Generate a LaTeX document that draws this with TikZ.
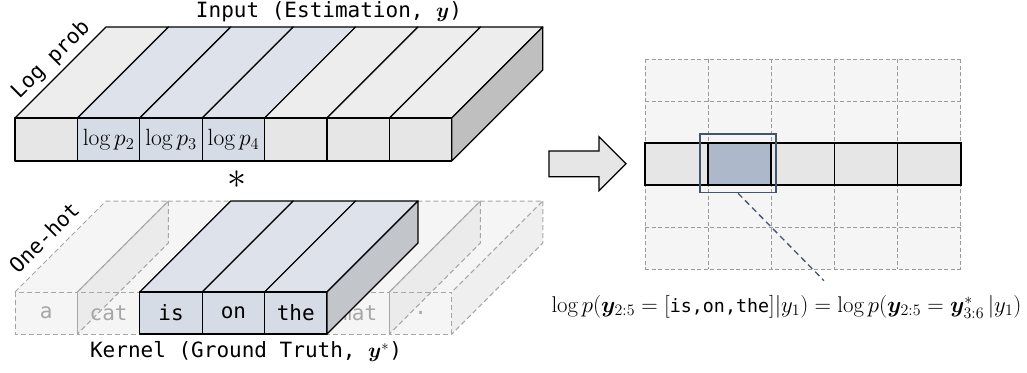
\RequirePackage{fix-cm}
\documentclass[tikz,border=0pt]{standalone}
\usepackage{amsmath}
\usepackage{bm}
\usepackage{fontspec}
\setmonofont{DejaVu Sans Mono}
\definecolor{grfront}{HTML}{E6E6E6}
\definecolor{grtop}{HTML}{EDEDED}
\definecolor{blfront}{HTML}{D6DCE5}
\definecolor{bltop}{HTML}{DEE3EB}
\definecolor{sidegray}{HTML}{BFBFBF}
\definecolor{sideblue}{HTML}{C2C5CA}
\definecolor{ghostline}{HTML}{A6A6A6}
\definecolor{ghostfill}{HTML}{F5F5F5}
\definecolor{ghosttext}{HTML}{A6A6A6}
\definecolor{gridbg}{HTML}{F5F5F5}
\definecolor{gridline}{HTML}{9A9A9A}
\definecolor{hlcell}{HTML}{ADB9CA}
\definecolor{hlframe}{HTML}{44546A}
\begin{document}
\begin{tikzpicture}[x=1pt,y=-1pt,
  edge/.style={draw=black,line width=1.2pt,line join=round},
  ghostedge/.style={draw=ghostline,line width=1pt,dash pattern=on 5pt off 3pt},
  griddash/.style={draw=gridline,line width=0.9pt,dash pattern=on 4pt off 2.5pt},
  monotext/.style={font=\ttfamily\fontsize{21}{25}\selectfont,inner sep=0pt},
  celltext/.style={font=\fontsize{23.5}{27}\selectfont,inner sep=0pt},
  ghosttxt/.style={monotext,text=ghosttext},
  conn/.style={draw=hlframe,line width=1.3pt,dash pattern=on 6pt off 4pt}]
\useasboundingbox (0,0) rectangle (1027,372);

% ---------- top box (Log prob) ----------
\foreach \i/\c in {0/gr,1/bl,2/bl,3/bl,4/gr,5/gr,6/gr}{
  \pgfmathsetmacro\xa{15+62.4*\i}
  \pgfmathsetmacro\xb{\xa+62.4}
  \path[edge,fill=\c top] (\xa,118) -- (\xb,118) -- (\xb+91,27) -- (\xa+91,27) -- cycle;
  \path[edge,fill=\c front] (\xa,118) rectangle (\xb,161);
}
\path[edge,fill=sidegray] (451.8,118) -- (542.8,27) -- (542.8,70) -- (451.8,161) -- cycle;
\node[celltext] (lp2) at (108.6,140) {$\log p_2$};
\node[celltext] (lp3) at (171.0,140) {$\log p_3$};
\node[celltext] (lp4) at (233.4,140) {$\log p_4$};
\node[monotext] (title) at (329,12) {Input (Estimation, $\bm{y}$)};
\node[monotext,rotate=45] (logprob) at (51,60) {Log prob};
\node[font=\fontsize{38}{38}\selectfont,inner sep=0pt] (conv) at (237,179.5) {$\ast$};

% ---------- ghost cells (One-hot) ----------
\foreach \i in {0,1,5,6}{
  \pgfmathsetmacro\xa{15+62.4*\i}
  \pgfmathsetmacro\xb{\xa+62.4}
  \path[fill=ghostfill] (\xa,292) -- (\xb,292) -- (\xb+91,201) -- (\xa+91,201) -- cycle;
  \path[fill=ghostfill] (\xa,292) rectangle (\xb,334);
}
\foreach \i in {0,1,5,6}{
  \pgfmathsetmacro\xb{15+62.4*\i+62.4}
  \path[fill=black!9,fill opacity=0.7] (\xb,292) -- (\xb+91,201) -- (\xb+91,243) -- (\xb,334) -- cycle;
}
\foreach \i in {0,1,5,6}{
  \pgfmathsetmacro\xa{15+62.4*\i}
  \pgfmathsetmacro\xb{\xa+62.4}
  \path[ghostedge] (\xa,292) rectangle (\xb,334);
  \path[ghostedge] (\xa,292) -- (\xa+91,201) -- (\xb+91,201) -- (\xb,292);
  \path[ghostedge] (\xb+91,201) -- (\xb+91,243) -- (\xb,334);
}
\node[ghosttxt] (ga) at (46.2,313) {a};
\node[ghosttxt] (gcat) at (108.6,313) {cat};
\node[ghosttxt] (gmat) at (358.2,313) {mat};
\node[ghosttxt] (gdot) at (420.6,313) {.};
\node[monotext,rotate=45] (onehot) at (44,237.5) {One-hot};

% ---------- solid kernel ----------
\foreach \i in {2,3,4}{
  \pgfmathsetmacro\xa{15+62.4*\i}
  \pgfmathsetmacro\xb{\xa+62.4}
  \path[edge,fill=bltop] (\xa,292) -- (\xb,292) -- (\xb+91,201) -- (\xa+91,201) -- cycle;
  \path[edge,fill=blfront] (\xa,292) rectangle (\xb,334);
}
\path[edge,fill=sideblue] (327,292) -- (418,201) -- (418,243) -- (327,334) -- cycle;
\node[monotext] (kis) at (171.0,313) {is};
\node[monotext] (kon) at (233.4,313) {on};
\node[monotext] (kthe) at (295.8,313) {the};
\node[monotext] (kernel) at (246,352) {Kernel (Ground Truth, $\bm{y}^*$)};

% ---------- block arrow ----------
\path[draw=black,line width=1.2pt,line join=miter,fill=grfront]
  (549,151) -- (599,151) -- (599,136.7) -- (626,163.7) -- (599,190.7) -- (599,176.7) -- (549,176.7) -- cycle;

% ---------- output grid ----------
\path[fill=gridbg] (645,59) rectangle (960.7,269);
\foreach \x in {645,708.1,771.3,834.4,897.6,960.7}{
  \path[griddash] (\x,59) -- (\x,269);
}
\foreach \y in {59,101,143,185,227,269}{
  \path[griddash] (645,\y) -- (960.7,\y);
}
\foreach \i in {0,1,2,3,4}{
  \pgfmathsetmacro\xa{645+63.14*\i}
  \pgfmathsetmacro\xb{\xa+63.14}
  \ifnum\i=1
    \path[draw=black,line width=1.6pt,fill=hlcell] (\xa,143) rectangle (\xb,185);
  \else
    \path[draw=black,line width=1.6pt,fill=grfront] (\xa,143) rectangle (\xb,185);
  \fi
}
\node[draw=hlframe,line width=1.2pt,minimum width=76pt,minimum height=58.7pt,inner sep=0pt] (hl) at (738,163.3) {};
\coordinate (lineend) at (824,280.7);
\draw[conn] (hl.south) -- (lineend);
\node[font=\fontsize{22.8}{26}\selectfont,inner sep=0pt] (formula) at (786.5,306.7)
  {$\log p(\bm{y}_{2:5} = [\text{\ttfamily\fontsize{18.3}{20}\selectfont is,on,the}]|y_1) = \log p(\bm{y}_{2:5} = \bm{y}^*_{3:6}\,|y_1)$};
\end{tikzpicture}
\end{document}
